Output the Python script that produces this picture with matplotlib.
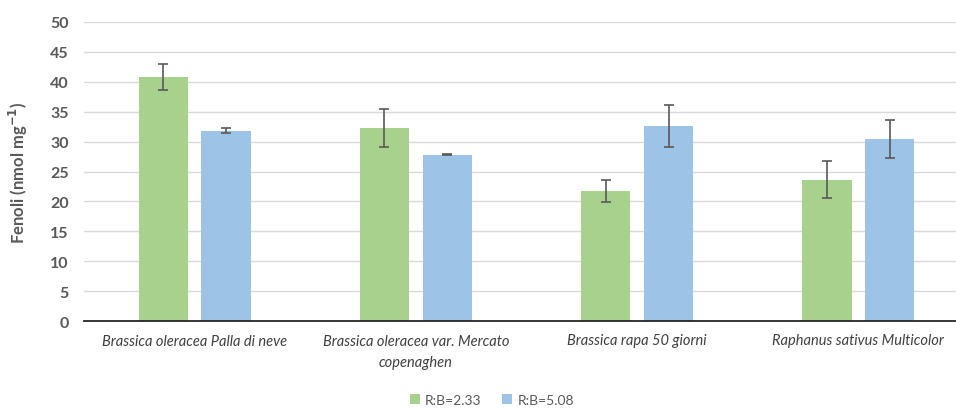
import matplotlib
matplotlib.use("Agg")
import matplotlib.pyplot as plt
import numpy as np
from matplotlib.patches import Patch

categories = ["Brassica oleracea Palla di neve",
              "Brassica oleracea var. Mercato\ncopenaghen",
              "Brassica rapa 50 giorni",
              "Raphanus sativus Multicolor"]
series_names = ["R:B=2.33", "R:B=5.08"]
vals_233 = [40.8, 32.3, 21.7, 23.6]
err_233 = [2.2, 3.2, 1.8, 3.1]
vals_508 = [31.8, 27.8, 32.6, 30.4]
err_508 = [0.4, 0.1, 3.5, 3.2]
yticks = [0, 5, 10, 15, 20, 25, 30, 35, 40, 45, 50]

green = "#A9D18E"
blue = "#9DC3E6"
grey = "#595959"

plt.rcParams['font.family'] = ['Lato', 'DejaVu Sans']

W, H = 956, 410
fig = plt.figure(figsize=(W/100, H/100), dpi=100)
left, right = 84, 969
top, bottom = 23, 322
ax = fig.add_axes([left/W, 1-bottom/H, (right-left)/W, (bottom-top)/H])

x = np.arange(len(categories))
bw = 0.222
off = 0.142
ekw = dict(ecolor=grey, elinewidth=1.2, capsize=3.5, capthick=1.2)
ax.bar(x-off, vals_233, bw, color=green, yerr=err_233, error_kw=ekw, zorder=3)
ax.bar(x+off, vals_508, bw, color=blue, yerr=err_508, error_kw=ekw, zorder=3)

ax.set_xlim(-0.5, len(categories)-0.5)
ax.set_ylim(0, 50)
ax.set_yticks(yticks)
ax.set_yticklabels([str(t) for t in yticks], fontsize=11.5, fontweight='bold', color=grey)
ax.tick_params(axis='y', length=0, pad=11)
ax.grid(axis='y', color="#D9D9D9", linewidth=1.0, zorder=0)
ax.set_axisbelow(True)
for s in ['top', 'right', 'left']:
    ax.spines[s].set_visible(False)
ax.spines['bottom'].set_color("#262626")
ax.spines['bottom'].set_linewidth(1.3)
ax.spines['bottom'].set_zorder(4)

ax.set_xticks(x)
ax.set_xticklabels(categories, fontsize=10.5, fontstyle='italic', color="#404040", linespacing=1.7)
ax.tick_params(axis='x', length=0, pad=9)

ax.set_ylabel("Fenoli (nmol mg$^{\\mathbf{-1}}$)", fontsize=12, fontweight='bold', color=grey)
ax.yaxis.set_label_coords((30-left)/(right-left), 0.5)

handles = [Patch(facecolor=green), Patch(facecolor=blue)]
fig.legend(handles, series_names, loc='center', bbox_to_anchor=(492/W, 1-401/H),
           ncol=2, frameon=False, fontsize=10, handlelength=0.7, handleheight=0.7,
           handletextpad=0.4, columnspacing=1.5, labelcolor=grey)

fig.savefig("out.png", dpi=100)
